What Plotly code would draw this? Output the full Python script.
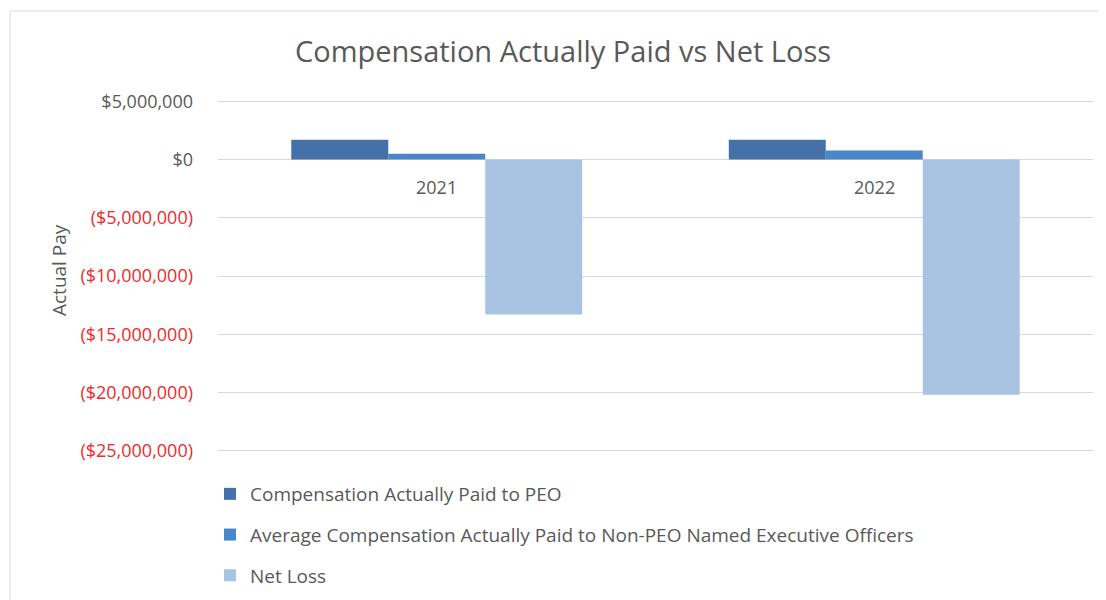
import plotly.graph_objects as go

years = ["2021", "2022"]
peo_cap = [1700000, 1700000]
non_peo_cap = [500000, 780000]
net_loss = [-13300000, -20200000]

series_names = [
    "Compensation Actually Paid to PEO",
    "Average Compensation Actually Paid to Non-PEO Named Executive Officers",
    "Net Loss",
]
series_colors = ["#4472A8", "#4A86C9", "#A9C3E3"]

tick_vals = [5000000, 0, -5000000, -10000000, -15000000, -20000000, -25000000]
tick_text = ["$5,000,000", "$0", "($5,000,000)", "($10,000,000)",
             "($15,000,000)", "($20,000,000)", "($25,000,000)"]

FONT = "Open Sans"
GRAY = "#595959"
RED = "#EE2B2B"

# page body has an 8px margin; work in reference-pixel coordinates and shift
OFF = 8
W, H = 1106 - OFF, 600 - OFF
PAD = 200000
L = 218 - OFF
R = W - (1093 - OFF)
T = 91
B = 147
pw, ph = W - L - R, H - T - B

def px_x(x):
    return (x - OFF - L) / pw

def px_y(y):
    return (H - B - (y - OFF)) / ph

fig = go.Figure()
for name, vals, col in zip(series_names, [peo_cap, non_peo_cap, net_loss], series_colors):
    fig.add_trace(go.Bar(x=years, y=vals, name=name, marker_color=col,
                         marker_line_width=0, legendgroup=name))

ticktext_colored = [
    (f'<span style="color:{RED}">{t}</span>' if v < 0 else t)
    for v, t in zip(tick_vals, tick_text)
]

fig.update_layout(
    width=W, height=H,
    margin=dict(l=L, r=R, t=T, b=B, autoexpand=False),
    paper_bgcolor="white", plot_bgcolor="white",
    barmode="group", bargap=0.335, bargroupgap=0,
    font=dict(family=FONT, color=GRAY),
    title=dict(text="Compensation Actually Paid vs Net Loss",
               x=(563 - OFF) / W, xanchor="center", y=1 - (52 - OFF) / H, yanchor="middle",
               yref="container", font=dict(size=29, color=GRAY, family=FONT)),
    xaxis=dict(type="category", showticklabels=False, showgrid=False,
               zeroline=False, showline=False),
    yaxis=dict(range=[min(tick_vals) - PAD, max(tick_vals) + PAD],
               tickvals=tick_vals, ticktext=ticktext_colored,
               showgrid=True, gridcolor="#D9D9D9", gridwidth=1,
               zeroline=True, zerolinecolor="#D9D9D9", zerolinewidth=1,
               showline=False, tickfont=dict(size=18, color=GRAY, family=FONT),
               ticklabelstandoff=24),
    legend=dict(orientation="v", x=px_x(210), xanchor="left", y=px_y(475), yanchor="top",
                font=dict(size=19, color=GRAY, family=FONT), tracegroupgap=13,
                bgcolor="rgba(0,0,0,0)"),
    showlegend=True,
)

for i, yr in enumerate(years):
    fig.add_annotation(x=i, y=0, xref="x", yref="y", text=yr, showarrow=False,
                       yanchor="top", yshift=-13, font=dict(size=18, color=GRAY, family=FONT))

fig.add_annotation(x=px_x(44), y=px_y(270), xref="paper", yref="paper", text="Actual Pay",
                   textangle=-90, showarrow=False, font=dict(size=19, color=GRAY, family=FONT))

fig.add_shape(type="rect", xref="paper", yref="paper",
              x0=px_x(10), x1=px_x(1130), y0=px_y(640), y1=px_y(11),
              line=dict(color="#D9D9D9", width=1), fillcolor="rgba(0,0,0,0)", layer="below")

fig.write_html("out.html")
